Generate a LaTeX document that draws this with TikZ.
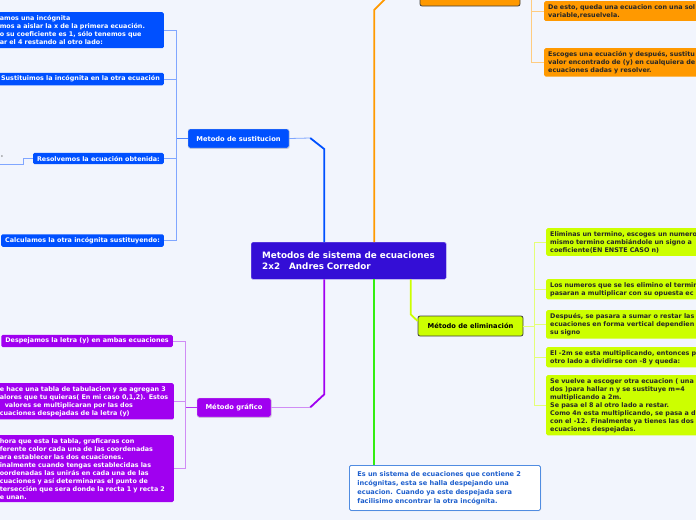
\documentclass[tikz,border=0pt]{standalone}
\usepackage{fontspec}
\setmainfont{DejaVu Sans}
\usetikzlibrary{shadows}
\definecolor{canvas}{RGB}{242,245,253}
\definecolor{rootfill}{RGB}{52,14,214}
\definecolor{sustblue}{RGB}{0,80,255}
\definecolor{sustline}{RGB}{128,166,255}
\definecolor{igorange}{RGB}{255,153,0}
\definecolor{igline}{RGB}{255,204,128}
\definecolor{elimlime}{RGB}{204,255,0}
\definecolor{elimline}{RGB}{228,255,120}
\definecolor{grafpurple}{RGB}{160,0,240}
\definecolor{grafline}{RGB}{208,140,245}
\definecolor{notegreen}{RGB}{51,238,17}
\definecolor{noteblue}{RGB}{30,95,205}
\definecolor{noteedge}{RGB}{80,140,225}
\tikzset{
  root box/.style={
    fill=rootfill,
    draw=rootfill!55!white,
    rounded corners=1.5pt,
    text=white,
    font=\fontsize{8.8}{11}\selectfont\bfseries,
    align=left,
    text width=173pt,
    inner xsep=11pt,
    minimum height=37pt,
  },
  topic box/.style={
    fill=#1,
    rounded corners=2pt,
    font=\fontsize{6.7}{8}\selectfont\bfseries,
    minimum height=19pt,
    inner xsep=6pt,
  },
  leaf box/.style={
    fill=#1,
    rounded corners=1.5pt,
    font=\fontsize{6.4}{8}\selectfont\bfseries,
    align=left,
    inner xsep=4pt,
    inner ysep=3pt,
  },
  soft shadow/.style={
    drop shadow={shadow xshift=0.6pt, shadow yshift=-0.8pt, opacity=0.3},
  },
  trunk/.style={draw=#1, line width=1.8pt},
  twig/.style={draw=#1, line width=0.8pt},
}

\begin{document}
\begin{tikzpicture}[x=1pt, y=-1pt]
        \useasboundingbox (0,0) rectangle (696,520);
        \clip (0,0) rectangle (696,520);
        \fill [canvas] (0,0) rectangle (696,520);

        \node [root box, anchor=north west] (root) at (251,242)
          {Metodos de sistema de ecuaciones\\2x2\hspace{9pt}Andres Corredor};

        \node [topic box=sustblue, text=white, draw=white!75!gray, soft shadow,
          minimum width=101pt] (sust) at (238.5,138.5) {Metodo de sustitucion};
        \node [topic box=igorange, draw=black!75, line width=0.8pt,
          minimum width=100pt, minimum height=26pt] (igual) at (470,-7) {};
        \node [topic box=elimlime, draw=black!75, line width=0.8pt,
          minimum width=105pt, minimum height=20pt] (elim) at (470.5,326) {Método de eliminación};
        \node [topic box=grafpurple, text=white, draw=white!75!gray, soft shadow,
          minimum width=74pt] (graf) at (234,407.5) {Método gráfico};
        \node [leaf box=white, draw=noteedge, line width=0.8pt, soft shadow, text=noteblue,
          font=\fontsize{6.6}{9}\selectfont\bfseries, text width=175pt, inner xsep=8pt,
          minimum height=45pt, anchor=north west] (note) at (349,465)
          {Es un sistema de ecuaciones que contiene 2\\incógnitas, esta se halla despejando una\\ecuacion. Cuando ya este despejada sera\\facilisimo encontrar la otra incógnita.};

        \node [leaf box=sustblue, text=white, text width=160pt, minimum height=36pt,
          anchor=north east] (sA) at (164,12)
          {amos una incógnita\\mos a aislar la x de la primera ecuación.\\o su coeficiente es 1, sólo tenemos que\\ar el 4 restando al otro lado:};
        \node [leaf box=sustblue, text=white, anchor=east] (sB) at (164,79)
          {Sustituimos la incógnita en la otra ecuación};
        \node [leaf box=sustblue, text=white, anchor=east] (sC) at (164,158.5)
          {Resolvemos la ecuación obtenida:};
        \node [leaf box=sustblue, text=white, anchor=east] (sD) at (164,240.5)
          {Calculamos la otra incógnita sustituyendo:};
        \node [font=\fontsize{3.5}{3.5}\selectfont, text=black!60, inner sep=0pt] (stub) at (2,157) {o};
        \coordinate (cutend) at (-2,164);

        \node [leaf box=igorange, text=black!85, text width=200pt, anchor=north west] (oA) at (544,1)
          {De esto, queda una ecuacion con una sol\\variable,resuelvela.};
        \node [leaf box=igorange, text=black!85, text width=200pt, anchor=north west] (oB) at (544,48)
          {Escoges una ecuación y después, sustitu\\valor encontrado de (y) en cualquiera de\\ecuaciones dadas y resolver.};

        \node [leaf box=elimlime, text=black!85, text width=200pt, anchor=north west] (eA) at (546,228)
          {Eliminas un termino, escoges un numero\\mismo termino cambiándole un signo a\\coeficiente(EN ENSTE CASO n)};
        \node [leaf box=elimlime, text=black!85, text width=200pt, anchor=north west] (eB) at (546,279)
          {Los numeros que se les elimino el termin\\pasaran a multiplicar con su opuesta ec};
        \node [leaf box=elimlime, text=black!85, text width=200pt, anchor=north west] (eC) at (546,310)
          {Después, se pasara a sumar o restar las\\ecuaciones en forma vertical dependien\\su signo};
        \node [leaf box=elimlime, text=black!85, text width=200pt, anchor=north west] (eD) at (546,347)
          {El -2m se esta multiplicando, entonces p\\otro lado a dividirse con -8 y queda:};
        \node [leaf box=elimlime, text=black!85, text width=200pt, anchor=north west] (eE) at (546,375)
          {Se vuelve a escoger otra ecuacion ( una\\dos )para hallar n y se sustituye m=4\\multiplicando a 2m.\\Se pasa el 8 al otro lado a restar.\\Como 4n esta multiplicando, se pasa a d\\con el -12. Finalmente ya tienes las dos\\ecuaciones despejadas.};

        \node [leaf box=grafpurple, text=white, anchor=east] (pA) at (173,341)
          {Despejamos la letra (y) en ambas ecuaciones};
        \node [leaf box=grafpurple, text=white, text width=170pt, anchor=north east] (pB) at (174,383)
          {e hace una tabla de tabulacion y se agregan 3\\alores que tu quieras( En mi caso 0,1,2). Estos\\\hspace*{5pt}valores se multiplicaran por las dos\\cuaciones despejadas de la letra (y)};
        \node [leaf box=grafpurple, text=white, text width=170pt, anchor=north east] (pC) at (174,435)
          {hora que esta la tabla, graficaras con\\ferente color cada una de las coordenadas\\ara establecer las dos ecuaciones.\\inalmente cuando tengas establecidas las\\oordenadas las unirás en cada una de las\\cuaciones y así determinaras el punto de\\tersección que sera donde la recta 1 y recta 2\\e unan.};

        \draw [trunk=sustblue] ([xshift=-24.5pt]root.north) -- ++(0,-93) -- ++(-14,-11) coordinate (sbend);
        \draw [twig=sustline] (sbend) -- (sust.east);
        \draw [trunk=igorange] ([xshift=25.5pt]root.north) -- ++(0,-232) -- ++(14,-14) coordinate (obend);
        \draw [twig=igline] (obend) -- (igual.west);
        \coordinate (gstart) at ([xshift=25pt]root.south);
        \draw [trunk=notegreen] (gstart) -- (gstart |- note.north);
        \draw [trunk=elimlime] ([xshift=62pt]root.south) -- ++(0,35) -- ([yshift=5pt]elim.west);
        \draw [trunk=grafpurple] ([xshift=-24.5pt]root.south) -- ++(0,115) -- ++(-14,13) coordinate (pbend);
        \draw [twig=grafline] (pbend) -- (graf.east);

        \draw [twig=sustblue!70!white] (sust.west) -- ++(-11,0) coordinate (bjoint);
        \draw [twig=sustline] (sA.east) -- (sA.east -| bjoint) -- (sD.east -| bjoint) -- (sD.east);
        \foreach \n in {sB,sC}
          \draw [twig=sustline] (\n.east) -- (\n.east -| bjoint);
        \draw [twig=sustline, line width=0.5pt] (sC.west) -- ++(-10,0) |- (cutend);

        \draw [twig=igline] (igual.east) -- ++(11,0) coordinate (ojoint);
        \draw [twig=igline] (ojoint) -- (oB.west -| ojoint) -- (oB.west);
        \draw [twig=igline] (oA.west) -- (oA.west -| ojoint);

        \draw [twig=elimline] (elim.east) -- ++(11,0) coordinate (ljoint);
        \draw [twig=elimline] (eA.west) -- (eA.west -| ljoint) -- (eE.west -| ljoint) -- (eE.west);
        \foreach \n in {eB,eC,eD}
          \draw [twig=elimline] (\n.west) -- (\n.west -| ljoint);

        \draw [twig=grafpurple!80!white] (graf.west) -- ++(-11,0) coordinate (pjoint);
        \draw [twig=grafline] (pA.east) -- (pA.east -| pjoint) -- (pC.east -| pjoint) -- (pC.east);
        \draw [twig=grafline] (pB.east) -- (pB.east -| pjoint);
      \end{tikzpicture}
\end{document}
